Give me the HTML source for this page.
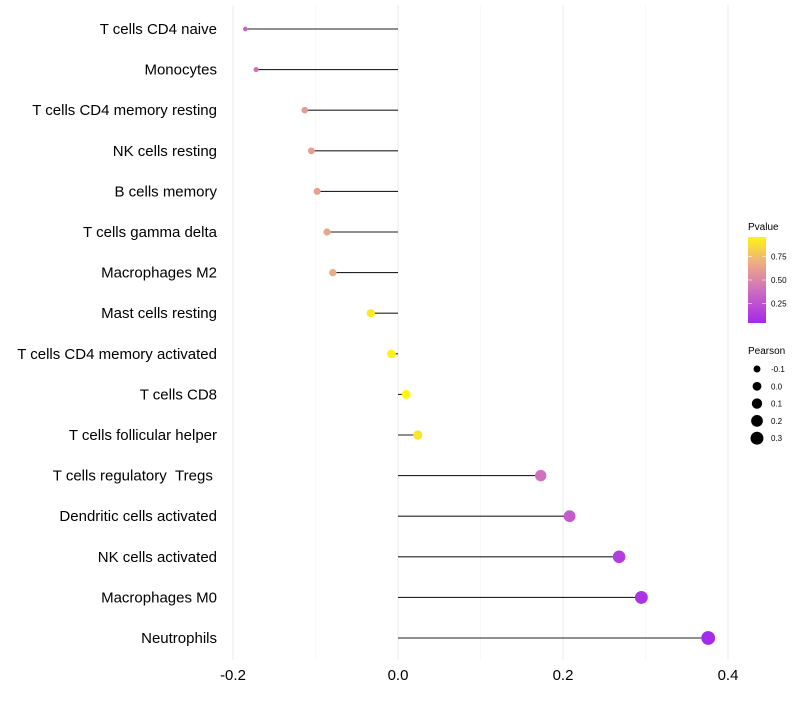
<!DOCTYPE html>
<html><head><meta charset="utf-8"><style>
body{margin:0;background:#fff;font-family:"Liberation Sans",sans-serif;}
</style></head><body>
<svg id="c" width="800" height="700" xmlns="http://www.w3.org/2000/svg"></svg>
<script>
const categories=["T cells CD4 naive","Monocytes","T cells CD4 memory resting","NK cells resting","B cells memory","T cells gamma delta","Macrophages M2","Mast cells resting","T cells CD4 memory activated","T cells CD8","T cells follicular helper","T cells regulatory\u00a0\u00a0Tregs\u00a0","Dendritic cells activated","NK cells activated","Macrophages M0","Neutrophils"];
const pearson=[-0.185,-0.172,-0.113,-0.105,-0.098,-0.086,-0.079,-0.033,-0.008,0.010,0.024,0.173,0.208,0.268,0.295,0.376];
const pvalues=[0.35,0.4,0.6,0.62,0.62,0.65,0.68,0.92,0.96,0.97,0.9,0.4,0.3,0.15,0.1,0.05];
const xTicks=[-0.2,0.0,0.2,0.4];
const xTickLabels=["-0.2","0.0","0.2","0.4"];
const pTicks=[0.25,0.5,0.75];
const sizeLegend=[-0.1,0,0.1,0.2,0.3];

const svg=document.getElementById('c');
const NS="http://www.w3.org/2000/svg";
const X=v=>398+v*825;
const Y=i=>29+i*40.6;
const R=v=>Math.sqrt(Math.max(1,19.5+75*v));
const PY=p=>327-p*94;
function col(p){
  const stops=[[0,[160,32,240]],[0.4,[208,112,190]],[0.7,[240,176,128]],[1,[255,255,0]]];
  for(let i=1;i<stops.length;i++){if(p<=stops[i][0]){const a=stops[i-1],b=stops[i];const t=(p-a[0])/(b[0]-a[0]);return 'rgb('+a[1].map((c,k)=>Math.round(c+(b[1][k]-c)*t)).join(',')+')';}}
  return 'rgb(255,255,0)';
}
function el(tag,attrs,text){const e=document.createElementNS(NS,tag);for(const k in attrs)e.setAttribute(k,attrs[k]);if(text!==undefined)e.textContent=text;svg.appendChild(e);return e;}

for(let v=-0.2;v<=0.41;v+=0.1){
  const major=Math.abs(Math.round(v*10))%2===0;
  const g=el('line',{x1:X(v),x2:X(v),y1:5,y2:660,stroke:major?'#ebebeb':'#f3f3f3','stroke-width':major?1:0.6});
  
  
}
xTicks.forEach((v,i)=>{
  const t=el('text',{x:X(v),y:680,'text-anchor':'middle','font-size':15,fill:'#000'},xTickLabels[i]);
  
  
});
categories.forEach((c,i)=>{
  const t=el('text',{x:217,y:Y(i)+5,'text-anchor':'end','font-size':15,fill:'#000','xml:space':'preserve'},c);
  
  
  const l=el('line',{x1:X(0),x2:X(pearson[i]),y1:Y(i),y2:Y(i),stroke:'#222','stroke-width':1.1});
  
  
  const p=el('circle',{cx:X(pearson[i]),cy:Y(i),r:R(pearson[i]),fill:col(pvalues[i])});
  
  
});
let t=el('text',{x:748,y:230,'font-size':10},'Pvalue');


const defs=el('defs',{});
const lg=document.createElementNS(NS,'linearGradient');lg.setAttribute('id','g');lg.setAttribute('x1',0);lg.setAttribute('x2',0);lg.setAttribute('y1',1);lg.setAttribute('y2',0);defs.appendChild(lg);
for(let s=0;s<=10;s++){const st=document.createElementNS(NS,'stop');const p=0.04+0.92*s/10;st.setAttribute('offset',s/10);st.setAttribute('stop-color',col(p));lg.appendChild(st);}
const bar=el('rect',{x:748,y:237,width:18,height:86,fill:'url(#g)'});


pTicks.forEach(p=>{
  el('line',{x1:748,x2:752,y1:PY(p),y2:PY(p),stroke:'#fff','stroke-width':0.6});
  el('line',{x1:762,x2:766,y1:PY(p),y2:PY(p),stroke:'#fff','stroke-width':0.6});
  const tt=el('text',{x:771,y:PY(p)+3,'font-size':8},p.toFixed(2));
  
  
});
t=el('text',{x:748,y:354,'font-size':10},'Pearson');


sizeLegend.forEach((v,i)=>{
  const y=369+i*17.3;
  const c=el('circle',{cx:757,cy:y,r:R(v),fill:'#000'});
  
  
  const tt=el('text',{x:771,y:y+3,'font-size':8},v===0?'0.0':String(v));
  
  
});
</script>
</body></html>
